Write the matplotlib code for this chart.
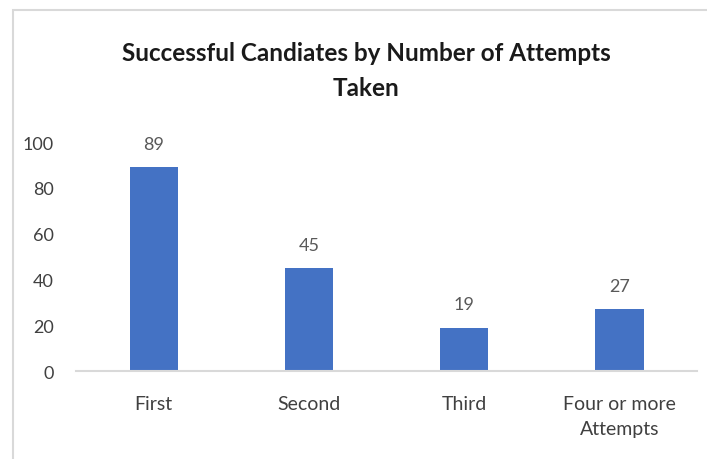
import matplotlib.pyplot as plt
from matplotlib.patches import Rectangle

categories = ["First", "Second", "Third", "Four or more\nAttempts"]
counts = [89, 45, 19, 27]
yticks = [0, 20, 40, 60, 80, 100]

plt.rcParams["font.family"] = ["Lato", "DejaVu Sans"]

fig = plt.figure(figsize=(7.07, 4.6), dpi=100)
ax = fig.add_axes([0.1075, 0.1913, 0.8785, 0.4977])

# chart frame, cropped on the right and bottom
fig.patches.append(Rectangle((13 / 707, -0.1), 1.2, 1 - 11 / 460 + 0.1,
                             transform=fig.transFigure, fill=False,
                             edgecolor="#D9D9D9", linewidth=1.5))

x = range(len(categories))
bars = ax.bar(x, counts, width=0.31, color="#4472C4")
for b, v in zip(bars, counts):
    ax.annotate(str(v), (b.get_x() + b.get_width() / 2, v),
                xytext=(0, 11), textcoords="offset points",
                ha="center", va="bottom", fontsize=13, color="#595959")

ax.set_xlim(-0.5, 3.5)
ax.set_ylim(0, 100)
ax.set_xticks(list(x))
ax.set_xticklabels(categories, fontsize=14, color="#404040", linespacing=1.6)
ax.set_yticks(yticks)
ax.set_yticklabels([str(t) for t in yticks], fontsize=13, color="#404040")
ax.tick_params(length=0)
ax.tick_params(axis="x", pad=17)
ax.tick_params(axis="y", pad=16)
for s in ["top", "right", "left"]:
    ax.spines[s].set_visible(False)
ax.spines["bottom"].set_color("#D9D9D9")
ax.spines["bottom"].set_linewidth(1.5)

fig.text(0.518, 0.846, "Successful Candiates by Number of Attempts\nTaken",
         ha="center", va="center", fontsize=17.5, fontweight="bold",
         color="#1a1a1a", linespacing=1.6)

fig.savefig("out.png", dpi=100)
